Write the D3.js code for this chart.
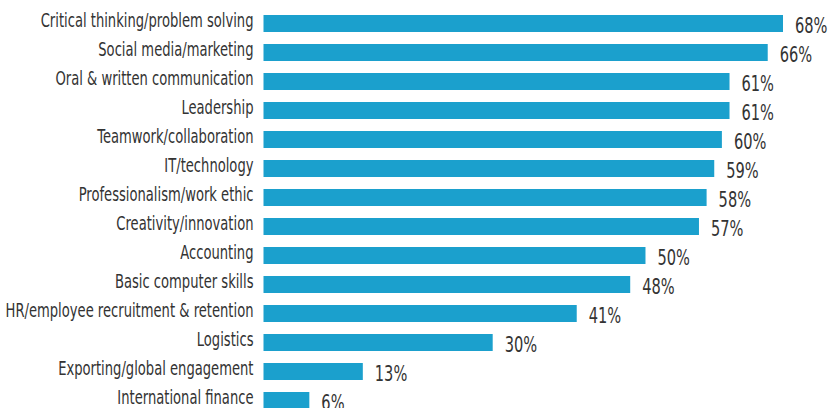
<html>
<head>
  <meta charset="utf-8" />
  <script src="https://d3js.org/d3.v7.min.js"></script>
</head>
<style>
  body { margin: 0; background: #fff; }
  svg { display: block; }
  text { font-family: "DejaVu Sans", sans-serif; fill: #333; }
</style>
<body>
<svg class="main" width="828" height="408"></svg>
<script>
var skills = [
  "Critical thinking/problem solving",
  "Social media/marketing",
  "Oral & written communication",
  "Leadership",
  "Teamwork/collaboration",
  "IT/technology",
  "Professionalism/work ethic",
  "Creativity/innovation",
  "Accounting",
  "Basic computer skills",
  "HR/employee recruitment & retention",
  "Logistics",
  "Exporting/global engagement",
  "International finance"
]
var shares = [68, 66, 61, 61, 60, 59, 58, 57, 50, 48, 41, 30, 13, 6]

var svg = d3.select("svg.main")

var x = d3.scaleLinear().domain([0, 68]).range([263.5, 783])
var y = d3.scaleBand().domain(skills).range([15 - 6, 15 + 14 * 29 - 6]).paddingInner(12 / 29).paddingOuter(6 / 29)

var rows = svg.append("g")
  .selectAll("g.row")
  .data(skills)
  .enter()
  .append("g")
  .attr("class", "row")

rows.append("rect")
  .attr("x", x(0))
  .attr("y", function (d) {return y(d)})
  .attr("width", function (d, i) {return x(shares[i]) - x(0)})
  .attr("height", y.bandwidth())
  .style("fill", "#1ba0cd")

// the reference uses a condensed face, so squeeze the text sideways
var labels = rows.append("text")
  .attr("class", "label")
  .attr("text-anchor", "end")
  .style("font-size", "19.5px")
  .text(function (d) {return d})

var longest = labels.filter(function (d) {return d == skills[0]}).node().getComputedTextLength()
var sx = 213 / longest

labels.attr("transform", function (d) {
  return "translate(253.5," + (y(d) + y.bandwidth() / 2 + 3) + ") scale(" + sx + ",1)"
})

var values = rows.append("text")
  .attr("class", "value")
  .style("font-size", "21.5px")
  .text(function (d, i) {return shares[i] + "%"})

var vx = 32.5 / values.filter(function (d) {return d == skills[0]}).node().getComputedTextLength()

values.attr("transform", function (d, i) {
  return "translate(" + (x(shares[i]) + 12) + "," + (y(d) + y.bandwidth() + 0.5) + ") scale(" + vx + ",1)"
})
</script>
</body>
</html>
